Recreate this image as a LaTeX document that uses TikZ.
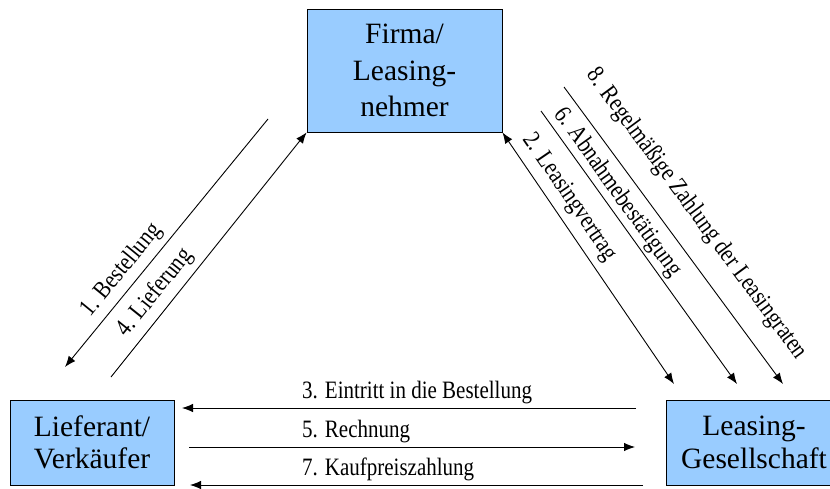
\documentclass[tikz,border=0pt]{standalone}
\usepackage{fontspec}
\setmainfont{Liberation Serif}
\newfontfamily\lblfont[FakeStretch=0.84]{Liberation Serif}
\usetikzlibrary{arrows.meta}
\definecolor{boxblue}{RGB}{153,204,255}
\begin{document}
\begin{tikzpicture}[x=1pt,y=-1pt,
  party/.style={draw=black,line width=0.9pt,fill=boxblue,inner sep=0pt,align=center},
  flow/.style={line width=0.9pt,-{Latex[length=11pt,width=8.5pt]}},
  flowboth/.style={line width=0.9pt,{Latex[length=11pt,width=8.5pt]}-{Latex[length=11pt,width=8.5pt]}},
  lbl/.style={font=\lblfont\fontsize{25}{30}\selectfont,inner sep=0pt}
]
\useasboundingbox (0,0) rectangle (830,489);
% parties
\node[party,minimum width=195pt,minimum height=123pt,font=\fontsize{29.5}{36.7}\selectfont] (firma) at (404.5,70.5) {Firma/\\Leasing-\\nehmer};
\node[party,minimum width=164pt,minimum height=85pt,font=\fontsize{29.5}{32.5}\selectfont] (lief) at (92,442.5) {Lieferant/\\Verkäufer};
\node[party,minimum width=176pt,minimum height=85pt,font=\fontsize{29.5}{33}\selectfont] (lg) at (754,442.5) {Leasing-\\Gesellschaft};
% free ends
\coordinate (c1s) at (268,119);
\coordinate (c1e) at (65,367);
\coordinate (c4s) at (111,377);
\coordinate (c2e) at (674,384);
\coordinate (c6s) at (541,111);
\coordinate (c6e) at (737,384);
\coordinate (c8s) at (564,87);
\coordinate (c8e) at (783,384);
\coordinate (c3s) at (636,408);
\coordinate (c3e) at (182,408);
\coordinate (c5s) at (189,447);
\coordinate (c5e) at (635,447);
\coordinate (c7s) at (643,485);
\coordinate (c7e) at (190,485);
% connectors
\draw[flow] (c1s) -- (c1e);
\draw[flow] (c4s) -- (firma.south west);
\draw[flowboth] (firma.south east) -- (c2e);
\draw[flow] (c6s) -- (c6e);
\draw[flow] (c8s) -- (c8e);
\draw[flow] (c3s) -- (c3e);
\draw[flow] (c5s) -- (c5e);
\draw[flow] (c7s) -- (c7e);
% labels
\node[lbl,rotate=50.7] (t1) at (121.5,270.5) {1. Bestellung};
\node[lbl,rotate=51.3] (t4) at (155,293) {4. Lieferung};
\node[lbl,rotate=-55.6] (t2) at (569.5,197.5) {2. Leasingvertrag};
\node[lbl,rotate=-54.3] (t6) at (617.5,192.5) {6. Abnahmebestätigung};
\node[lbl,rotate=-53.6] (t8) at (696.5,214) {8. Regelmäßige Zahlung der Leasingraten};
\node[lbl,anchor=base west] (t3) at (302,398) {3. Eintritt in die Bestellung};
\node[lbl,anchor=base west] (t5) at (302,437) {5. Rechnung};
\node[lbl,anchor=base west] (t7) at (302,475) {7. Kaufpreiszahlung};
\end{tikzpicture}
\end{document}
